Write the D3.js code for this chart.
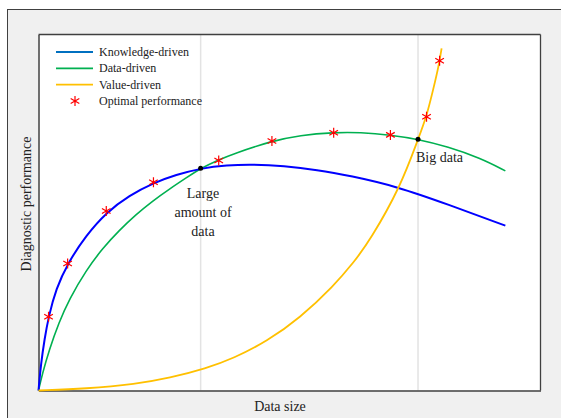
<!DOCTYPE html>
<html>
<head>
<meta charset="utf-8">
<script src="https://cdn.jsdelivr.net/npm/d3@7"></script>
<style>
  html, body { margin: 0; padding: 0; background: #ffffff; }
  svg { display: block; }
  text { font-family: "Liberation Serif", "Times New Roman", serif; fill: #222; }
</style>
</head>
<body>
<svg id="chart" width="561" height="418"></svg>
<script>
// Knowledge-driven curve: [data size, performance]
const knowledgeDriven = [
  [0, 0], [0.5, 7.6], [1.2, 14.4], [2.0, 20.7], [3.5, 28.6], [5.8, 35.7],
  [9.5, 43.6], [13.5, 50.0], [18.1, 54.8], [22.9, 58.3], [27.4, 60.6],
  [32.3, 62.4], [37.5, 63.3], [42.8, 63.5], [48.8, 63.1], [55.5, 62.0],
  [62.1, 60.3], [71.4, 57.3], [81.5, 52.3], [93.0, 46.3]
];
// Data-driven curve
const dataDriven = [
  [0, 0], [0.8, 4.8], [2.1, 11.3], [4.1, 19.2], [6.1, 25.6], [9.5, 33.8],
  [12.8, 40.0], [16.1, 45.0], [19.4, 49.4], [22.8, 53.3], [26.1, 56.6],
  [29.4, 59.7], [32.3, 62.4], [35.9, 64.8], [38.8, 66.5], [46.5, 70.1],
  [52.1, 71.7], [58.8, 72.5], [64.1, 72.5], [70.1, 71.8], [75.6, 70.6],
  [81.5, 68.5], [88.0, 65.3], [93.0, 61.7]
];
// Value-driven curve
const valueDriven = [
  [0, 0], [9.5, 0.5], [19.4, 1.8], [26.1, 3.5], [33.4, 6.2], [38.8, 9.0],
  [45.5, 13.8], [52.1, 20.4], [58.8, 29.4], [62.8, 36.0], [66.1, 42.3],
  [72.1, 57.2], [75.6, 70.6], [77.3, 76.9], [78.7, 85.0], [79.7, 91.0],
  [80.3, 96.1]
];
// Optimal performance markers
const optimal = [
  [2.0, 20.7], [5.8, 35.7], [13.5, 50.4], [22.9, 58.5], [35.9, 64.6],
  [46.5, 70.1], [58.8, 72.4], [70.1, 71.8], [77.3, 76.9], [79.9, 92.6]
];
// Crossing points and their vertical guide lines
const crossings = [[32.3, 62.4], [75.6, 70.6]];
const gridX = [32.3, 75.6];

const legendLabels = ["Knowledge-driven", "Data-driven", "Value-driven", "Optimal performance"];

const svg = d3.select("#chart");
const W = 561, H = 418;
const plot = { left: 38.5, right: 540.5, top: 34.5, bottom: 390.5 };

// Figure background with frame
svg.append("rect")
  .attr("x", 7.5).attr("y", 9.5)
  .attr("width", W).attr("height", H)
  .attr("fill", "#f0f0f0").attr("stroke", "#404040").attr("stroke-width", 1);

const x = d3.scaleLinear().domain([0, 100]).range([plot.left, plot.right]);
const y = d3.scaleLinear().domain([0, 100]).range([plot.bottom, plot.top]);

// Plot area
svg.append("rect")
  .attr("x", plot.left).attr("y", plot.top)
  .attr("width", plot.right - plot.left).attr("height", plot.bottom - plot.top)
  .attr("fill", "#ffffff");

// Vertical guides
svg.selectAll("line.grid").data(gridX).join("line")
  .attr("class", "grid")
  .attr("x1", d => x(d)).attr("x2", d => x(d))
  .attr("y1", plot.top).attr("y2", plot.bottom)
  .attr("stroke", "#e3e3e3").attr("stroke-width", 1.5);

// Axes without ticks (box)
const xAxis = d3.axisBottom(x).tickValues([]).tickSizeOuter(0);
const yAxis = d3.axisLeft(y).tickValues([]).tickSizeOuter(0);
svg.append("g").attr("transform", `translate(0,${plot.bottom})`).call(xAxis)
  .select(".domain").attr("stroke", "#404040").attr("stroke-width", 1.5);
svg.append("g").attr("transform", `translate(${plot.left},0)`).call(yAxis)
  .select(".domain").attr("stroke", "#404040").attr("stroke-width", 1.5);
svg.append("line")
  .attr("x1", plot.left).attr("x2", plot.right).attr("y1", plot.top).attr("y2", plot.top)
  .attr("stroke", "#404040").attr("stroke-width", 1.3);
svg.append("line")
  .attr("x1", plot.right).attr("x2", plot.right).attr("y1", plot.top).attr("y2", plot.bottom)
  .attr("stroke", "#404040").attr("stroke-width", 1.3);

// Smooth spline through the sampled points
const line = d3.line().x(d => x(d[0])).y(d => y(d[1])).curve(d3.curveBasis);

svg.append("path").datum(dataDriven).attr("d", line)
  .attr("fill", "none").attr("stroke", "#00b050").attr("stroke-width", 1.6);
svg.append("path").datum(knowledgeDriven).attr("d", line)
  .attr("fill", "none").attr("stroke", "#0000ff").attr("stroke-width", 2);
svg.append("path").datum(valueDriven).attr("d", line)
  .attr("fill", "none").attr("stroke", "#ffc000").attr("stroke-width", 1.8);

// Asterisk marker
function asterisk(cx, cy, r) {
  const a = Math.PI / 6;
  const dx = r * Math.cos(a), dy = r * Math.sin(a);
  return `M${cx},${cy - r}L${cx},${cy + r}` +
         `M${cx - dx},${cy - dy}L${cx + dx},${cy + dy}` +
         `M${cx - dx},${cy + dy}L${cx + dx},${cy - dy}`;
}

svg.selectAll("path.opt").data(optimal).join("path")
  .attr("class", "opt")
  .attr("d", d => asterisk(x(d[0]), y(d[1]), 5))
  .attr("fill", "none").attr("stroke", "#ff0000").attr("stroke-width", 1.2);

svg.selectAll("circle.cross").data(crossings).join("circle")
  .attr("class", "cross")
  .attr("cx", d => x(d[0])).attr("cy", d => y(d[1])).attr("r", 2.5)
  .attr("fill", "#000");

// Annotations
const ann = svg.append("text").attr("text-anchor", "middle").attr("font-size", 14);
["Large", "amount of", "data"].forEach((t, i) => {
  ann.append("tspan").attr("x", 203).attr("y", 198 + i * 19).text(t);
});
svg.append("text").attr("x", 416).attr("y", 162).attr("font-size", 14).text("Big data");

// Axis titles
svg.append("text").attr("x", 280).attr("y", 411)
  .attr("text-anchor", "middle").attr("font-size", 14).text("Data size");
svg.append("text")
  .attr("transform", "translate(31,204) rotate(-90)")
  .attr("text-anchor", "middle").attr("font-size", 14).text("Diagnostic performance");

// Legend
const legendColors = ["#0070c0", "#00b050", "#ffc000", "#ff0000"];
const lg = svg.append("g");
legendLabels.forEach((label, i) => {
  const ly = 52 + i * 16.3;
  if (i < 3) {
    lg.append("line").attr("x1", 56).attr("x2", 93).attr("y1", ly).attr("y2", ly)
      .attr("stroke", legendColors[i]).attr("stroke-width", 1.8);
  } else {
    lg.append("path").attr("d", asterisk(75, ly, 5))
      .attr("fill", "none").attr("stroke", legendColors[i]).attr("stroke-width", 1.2);
  }
  lg.append("text").attr("x", 99).attr("y", ly + 4).attr("font-size", 12).text(label);
});
</script>
</body>
</html>
